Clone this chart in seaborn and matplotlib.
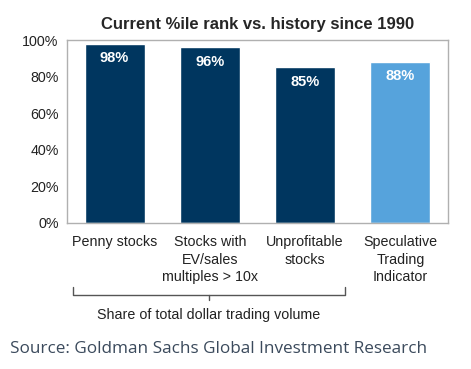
import matplotlib
matplotlib.use('Agg')
import matplotlib.pyplot as plt
import pandas as pd
import seaborn as sns
from matplotlib.ticker import PercentFormatter

categories = ['Penny stocks', 'Stocks with\nEV/sales\nmultiples > 10x',
              'Unprofitable\nstocks', 'Speculative\nTrading\nIndicator']
values = [98, 96, 85, 88]
bar_colors = ['#00365f', '#00365f', '#00365f', '#56a3dc']

df = pd.DataFrame({'category': categories, 'value': values})

sns.set_style('white')
plt.rcParams['font.family'] = ['Liberation Sans', 'DejaVu Sans']

fig = plt.figure(figsize=(4.71, 3.69), dpi=100)
ax = fig.add_axes([67 / 471, 1 - 223 / 369, 381 / 471, 183 / 369])

sns.barplot(data=df, x='category', y='value', hue='category', palette=bar_colors,
            width=0.63, legend=False, ax=ax, saturation=1)

ax.set_ylim(0, 100)
ax.set_yticks(range(0, 101, 20))
ax.yaxis.set_major_formatter(PercentFormatter(decimals=0))
ax.set_xlabel('')
ax.set_ylabel('')
ax.tick_params(axis='both', length=0, labelsize=10.3, colors='#222222')
ax.tick_params(axis='y', pad=6)
ax.tick_params(axis='x', pad=9)
for lab in ax.get_xticklabels():
    lab.set_linespacing(1.3)
for s in ax.spines.values():
    s.set_color('#b0b0b0')
    s.set_linewidth(1.0)

# value labels inside bars
for patch, v in zip(ax.patches, values):
    ax.text(patch.get_x() + patch.get_width() / 2, v - 4, f'{v}%',
            ha='center', va='top', color='white', fontsize=10.5, fontweight='bold')

ax.set_title('Current %ile rank vs. history since 1990', fontsize=12,
             fontweight='bold', pad=8)

# brace under the first three categories
bx0, bx1, bxm = 73 / 471, 345 / 471, 209 / 471
by_top, by_bot, by_tip = 1 - 287 / 369, 1 - 295 / 369, 1 - 300 / 369
fig.add_artist(plt.Line2D([bx0, bx0, bx1, bx1], [by_top, by_bot, by_bot, by_top],
                          color='#555555', lw=1.0))
fig.add_artist(plt.Line2D([bxm, bxm], [by_bot, by_tip], color='#555555', lw=1.0))
fig.text(bxm, 1 - 315 / 369, 'Share of total dollar trading volume', ha='center',
         va='center', fontsize=10.3, color='#222222')

fig.text(10 / 471, 1 - 349 / 369, 'Source: Goldman Sachs Global Investment Research',
         ha='left', va='center', fontsize=12.3, color='#3b4a5c',
         family=['Open Sans', 'DejaVu Sans'])

fig.savefig('out.png', dpi=100)
